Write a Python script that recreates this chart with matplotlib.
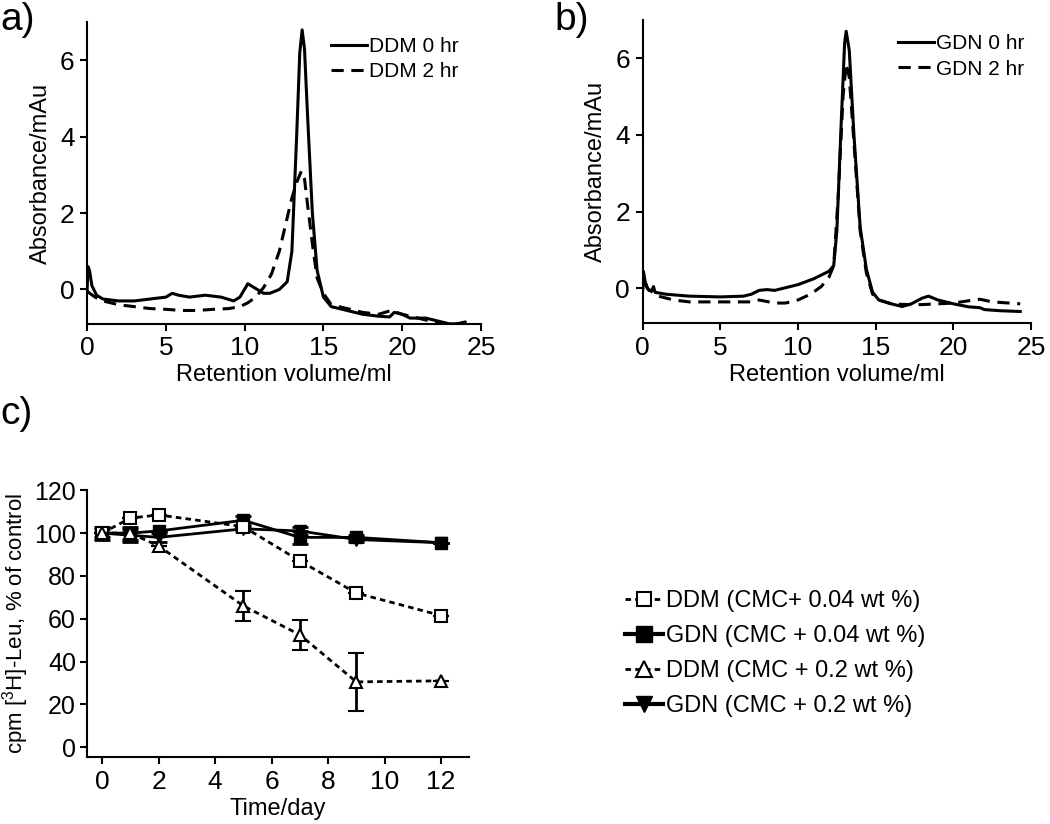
import numpy as np
import matplotlib
matplotlib.use('Agg')
import matplotlib.pyplot as plt
from matplotlib.lines import Line2D

plt.rcParams['font.family'] = ['Liberation Sans', 'DejaVu Sans']
plt.rcParams['mathtext.fontset'] = 'custom'
plt.rcParams['mathtext.rm'] = 'Liberation Sans'
plt.rcParams['mathtext.it'] = 'Liberation Sans'

## Donnees

# a) DDM
ddm0_x = [0, 0.05, 0.15, 0.3, 0.6, 1, 2, 3, 4, 5, 5.4, 5.8, 6.5, 7.5, 8.5, 9.3, 9.7, 10.2, 10.6,
          11.2, 11.6, 12.2, 12.7, 13.0, 13.3, 13.5, 13.65, 13.8, 14.0, 14.3, 14.6, 15, 15.5, 16.5,
          17.5, 18.5, 19.2, 19.5, 20, 20.5, 21.5, 22, 23, 24]
ddm0_y = [0.0, 0.6, 0.5, 0.1, -0.15, -0.25, -0.3, -0.3, -0.25, -0.2, -0.1, -0.15, -0.2, -0.15, -0.2,
          -0.3, -0.2, 0.15, 0.05, -0.1, -0.1, 0.0, 0.2, 1.0, 4.0, 6.2, 6.8, 6.3, 4.5, 2.0, 0.5, -0.2,
          -0.45, -0.55, -0.65, -0.7, -0.72, -0.6, -0.65, -0.75, -0.75, -0.8, -0.9, -0.9]
ddm2_x = [0, 0.5, 1, 2, 3, 4, 5, 6, 7, 8, 9, 9.7, 10.2, 10.7, 11.2, 11.7, 12.2, 12.6, 13.0, 13.3,
          13.6, 13.8, 14.0, 14.3, 14.6, 15, 15.5, 16.5, 17.5, 18.5, 19.3, 20, 21, 22, 23, 24, 24.2]
ddm2_y = [-0.05, -0.2, -0.3, -0.4, -0.45, -0.5, -0.52, -0.55, -0.55, -0.52, -0.5, -0.45, -0.35,
          -0.2, 0.05, 0.4, 1.0, 1.7, 2.4, 2.8, 3.1, 2.9, 2.2, 1.2, 0.3, -0.1, -0.4, -0.5, -0.6,
          -0.65, -0.55, -0.65, -0.75, -0.85, -0.95, -0.85, -0.95]

# b) GDN
gdn0_x = [0, 0.05, 0.2, 0.4, 0.6, 0.7, 0.8, 1.5, 3, 5, 6.5, 7, 7.5, 8, 8.5, 9, 10, 11, 11.5, 12,
          12.3, 12.5, 12.8, 13.0, 13.1, 13.3, 13.6, 14.0, 14.4, 14.8, 15.2, 16, 16.7, 17.3, 18,
          18.4, 19, 19.5, 20, 21, 21.7, 22, 23, 24.3]
gdn0_y = [0.0, 0.45, 0.1, -0.05, -0.05, 0.05, -0.1, -0.15, -0.2, -0.22, -0.2, -0.15, -0.05, -0.03,
          -0.05, 0.0, 0.1, 0.25, 0.35, 0.45, 0.6, 1.5, 4.5, 6.4, 6.7, 6.2, 4.0, 1.6, 0.5, -0.1, -0.3,
          -0.4, -0.47, -0.4, -0.25, -0.2, -0.3, -0.35, -0.4, -0.48, -0.5, -0.55, -0.58, -0.6]
gdn2_x = [0, 0.1, 0.3, 1, 2, 3, 5, 7, 7.5, 8.5, 9.2, 10, 10.8, 11.5, 12.0, 12.3, 12.6, 12.9, 13.1,
          13.3, 13.6, 14.0, 14.4, 14.8, 15.2, 16, 17, 18, 19, 20, 21, 21.7, 22.5, 24.3]
gdn2_y = [-0.05, 0.3, 0.0, -0.2, -0.3, -0.35, -0.35, -0.35, -0.3, -0.38, -0.38, -0.3, -0.15, 0.05,
          0.3, 0.6, 2.5, 5.0, 5.85, 5.5, 3.8, 1.5, 0.4, -0.15, -0.3, -0.4, -0.42, -0.42, -0.4,
          -0.38, -0.32, -0.28, -0.35, -0.4]

# c) incorporation
jours = [0, 1, 2, 5, 7, 9, 12]
ddm_004 = [100, 107, 108.5, 103, 87, 72, 61.5]
ddm_004_err = [0, 0, 0, 0, 0, 0, 0]
gdn_004 = [100, 100, 101, 106, 98, 98, 95.5]
gdn_004_err = [3, 3, 0, 2, 3, 1, 0]
ddm_02 = [100, 100, 94, 66, 52.5, 30.5, 31]
ddm_02_err = [0, 0, 0, 7, 7, 13.5, 0]
gdn_02 = [100, 99, 98, 102, 101, 97, 95.5]
gdn_02_err = [2, 3, 2, 1, 2, 1, 0]

noms_c = ['DDM (CMC+ 0.04 wt %)', 'GDN (CMC + 0.04 wt %)',
          'DDM (CMC + 0.2 wt %)', 'GDN (CMC + 0.2 wt %)']


def style(ax):
    ax.spines['top'].set_visible(False)
    ax.spines['right'].set_visible(False)
    ax.spines['left'].set_linewidth(1.5)
    ax.spines['bottom'].set_linewidth(1.5)
    ax.tick_params(direction='out', length=5, width=1.5, labelsize=19, pad=4)


fig = plt.figure(figsize=(10.5, 8.24), dpi=100)

## a)
axa = fig.add_axes([0.083, 0.607, 0.375, 0.366])
axa.plot(ddm0_x, ddm0_y, 'k-', lw=2.2, label='DDM 0 hr')
axa.plot(ddm2_x, ddm2_y, 'k--', lw=2.2, dashes=(4, 2.5), label='DDM 2 hr')
axa.set_xlim(0, 25)
axa.set_ylim(-0.9, 7)
axa.set_xticks([0, 5, 10, 15, 20, 25])
axa.set_yticks([0, 2, 4, 6])
axa.set_xlabel('Retention volume/ml', fontsize=17, labelpad=3)
axa.set_ylabel('Absorbance/mAu', fontsize=17, labelpad=6)
axa.legend(loc='upper right', frameon=False, fontsize=15, handlelength=1.7, handletextpad=0.1,
           borderpad=0.2, labelspacing=0.3, bbox_to_anchor=(0.98, 1.0))
style(axa)

## b)
axb = fig.add_axes([0.612, 0.608, 0.37, 0.368])
axb.plot(gdn0_x, gdn0_y, 'k-', lw=2.2, label='GDN 0 hr')
axb.plot(gdn2_x, gdn2_y, 'k--', lw=2.2, dashes=(4, 2.5), label='GDN 2 hr')
axb.set_xlim(0, 25)
axb.set_ylim(-0.9, 7)
axb.set_xticks([0, 5, 10, 15, 20, 25])
axb.set_yticks([0, 2, 4, 6])
axb.set_xlabel('Retention volume/ml', fontsize=17, labelpad=3)
axb.set_ylabel('Absorbance/mAu', fontsize=17, labelpad=6)
axb.legend(loc='upper right', frameon=False, fontsize=15, handlelength=1.7, handletextpad=0.1,
           borderpad=0.2, labelspacing=0.3, bbox_to_anchor=(1.02, 1.0))
style(axb)

## c)
axc = fig.add_axes([0.083, 0.081, 0.364, 0.324])
tirets = (2, 1.5)
axc.errorbar(jours, gdn_02, yerr=gdn_02_err, color='k', ls='-', lw=2, marker='v', ms=9,
             mfc='k', mec='k', capsize=6, elinewidth=2, capthick=2)
axc.errorbar(jours, gdn_004, yerr=gdn_004_err, color='k', ls='-', lw=2, marker='s', ms=9,
             mfc='k', mec='k', capsize=6, elinewidth=2, capthick=2)
e1 = axc.errorbar(jours, ddm_004, yerr=ddm_004_err, color='k', ls='--', lw=2, marker='s', ms=9,
                  mfc='white', mec='k', mew=1.5, capsize=6, elinewidth=2, capthick=2)
e1[0].set_dashes(tirets)
e2 = axc.errorbar(jours, ddm_02, yerr=ddm_02_err, color='k', ls='--', lw=2, marker='^', ms=9,
                  mfc='white', mec='k', mew=1.5, capsize=6, elinewidth=2, capthick=2)
e2[0].set_dashes(tirets)
axc.set_xlim(-0.53, 13.0)
axc.set_ylim(-4.7, 120)
axc.spines['left'].set_bounds(-4.7, 120)
axc.set_xticks([0, 2, 4, 6, 8, 10, 12])
axc.set_yticks([0, 20, 40, 60, 80, 100, 120])
axc.set_xlabel('Time/day', fontsize=17, labelpad=3)
style(axc)
axc.tick_params(axis='y', labelsize=18, pad=3)
axc.set_ylabel('cpm [$^3$H]-Leu, % of control', fontsize=16, labelpad=2)

poignees = [
    Line2D([], [], color='k', ls='--', dashes=tirets, lw=2, marker='s', ms=10, mfc='white', mew=1.5),
    Line2D([], [], color='k', ls='-', lw=3, marker='s', ms=12, mfc='k'),
    Line2D([], [], color='k', ls='--', dashes=tirets, lw=2, marker='^', ms=12, mfc='white', mew=1.5),
    Line2D([], [], color='k', ls='-', lw=3, marker='v', ms=12, mfc='k'),
]
fig.legend(poignees, noms_c, loc='upper left', bbox_to_anchor=(0.575, 0.31), frameon=False,
           fontsize=17, handlelength=1.6, handletextpad=0.15, labelspacing=0.55)

## etiquettes
fig.text(0.0, 0.997, 'a)', fontsize=28, va='top', ha='left')
fig.text(0.528, 0.997, 'b)', fontsize=28, va='top', ha='left')
fig.text(0.0, 0.52, 'c)', fontsize=28, va='top', ha='left')

fig.savefig('out.png', dpi=100)
